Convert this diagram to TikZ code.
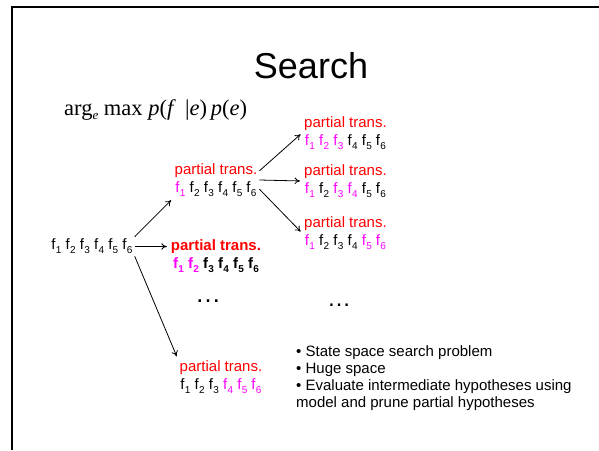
\documentclass[tikz,border=0pt]{standalone}
\usepackage{fontspec}
\setmainfont{Liberation Sans}
\newfontfamily\timesfont{Liberation Serif}
\usetikzlibrary{arrows.meta}
\definecolor{tred}{RGB}{255,0,0}
\definecolor{tmag}{RGB}{255,0,255}
% f with a lowered index digit
\newcommand\fx[1]{f\kern0.3pt\raisebox{-0.28em}{\fontsize{10}{10}\selectfont #1}}
\newcommand\fm[1]{\textcolor{tmag}{\fx{#1}}}
\begin{document}
\begin{tikzpicture}[x=1pt,y=-1pt,
  txt/.style={font=\fontsize{15}{18}\selectfont, inner sep=2pt, align=center},
  arr/.style={-{To[length=5.5pt,width=6.5pt]}, line width=0.8pt, shorten >=2pt},
]
\useasboundingbox (0,0) rectangle (599,450);
% slide frame
\draw[line width=2.2pt] (599,7) -- (12,7) -- (12,450);

\node (title) at (311,66) {\fontsize{36}{40}\selectfont Search};
\node[anchor=base west, inner sep=0pt] (formula) at (64,115)
  {\timesfont\fontsize{22.5}{24}\selectfont arg\raisebox{-4.5pt}{\fontsize{13}{13}\selectfont\itshape e}\ max \textit{p}(\textit{f}\ \,|\textit{e})\,\textit{p}(\textit{e})};

\node[txt] (root) at (92,246.5) {\fx1 \fx2 \fx3 \fx4 \fx5 \fx6};

\node[txt] (up) at (216,180) {\textcolor{tred}{partial trans.}\\ \fm1 \fx2 \fx3 \fx4 \fx5 \fx6};
\node[txt, font=\fontsize{15}{18}\selectfont\bfseries] (mid) at (216,256) {\textcolor{tred}{partial trans.}\\ \fm1 \fm2 \fx3 \fx4 \fx5 \fx6};
\node[txt] (low) at (221,377) {\textcolor{tred}{partial trans.}\\ \fx1 \fx2 \fx3 \fm4 \fm5 \fm6};

\node[txt] (r1) at (345.5,133) {\textcolor{tred}{partial trans.}\\ \fm1 \fm2 \fm3 \fx4 \fx5 \fx6};
\node[txt] (r2) at (345.5,181) {\textcolor{tred}{partial trans.}\\ \fm1 \fx2 \fm3 \fm4 \fx5 \fx6};
\node[txt] (r3) at (345.5,233) {\textcolor{tred}{partial trans.}\\ \fm1 \fx2 \fx3 \fx4 \fm5 \fm6};

\node[inner sep=0pt, anchor=base, font=\fontsize{26}{26}\selectfont] (dots1) at (208,302) {…};
\node[inner sep=0pt, anchor=base, font=\fontsize{24}{24}\selectfont] (dots2) at (339,306) {…};

\draw[arr] (root.north east) -- (up.south west);
\draw[arr] (root.east) -- (mid.west |- root.east);
\draw[arr] (root.south east) -- (low.north west);
\draw[arr] (up.12) -- (r1.west);
\draw[arr] (up.east) -- (r2.west);
\draw[arr] (up.-12) -- (r3.west);

\node[anchor=north west, align=left, inner sep=0pt, font=\fontsize{15}{17.3}\selectfont] (notes) at (296,345)
  {• State space search problem\\
   • Huge space\\
   • Evaluate intermediate hypotheses using\\
   model and prune partial hypotheses};
\end{tikzpicture}
\end{document}
